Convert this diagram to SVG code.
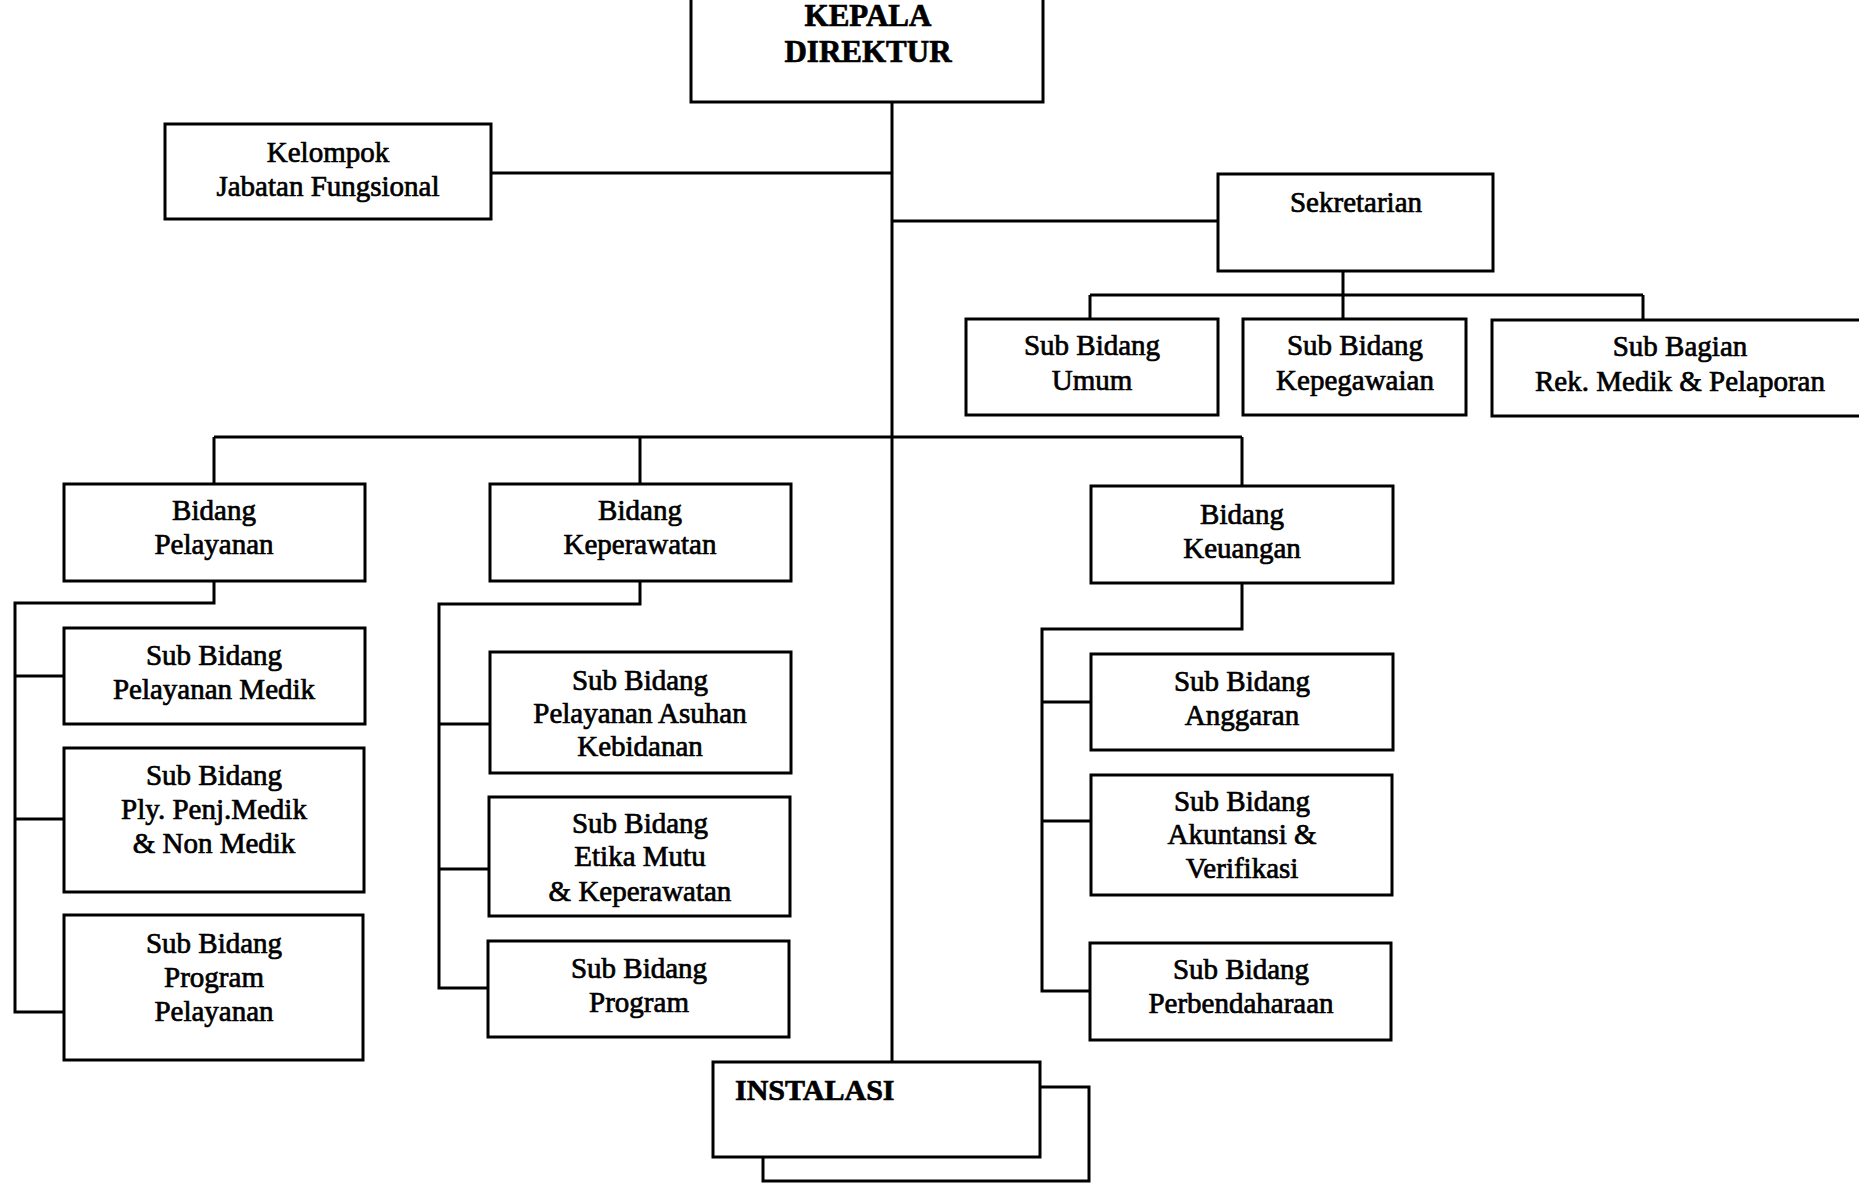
<svg xmlns="http://www.w3.org/2000/svg" width="1859" height="1183" viewBox="0 0 1859 1183">
<style>
.box{fill:#fff;stroke:#000;stroke-width:3}
.ln{fill:none;stroke:#000;stroke-width:3}
text{font-family:"Liberation Serif","Times New Roman",serif;font-size:29px;fill:#000;text-anchor:middle;stroke:#000;stroke-width:0.7}
.b{font-weight:bold;font-size:31px}
</style>
<rect width="1859" height="1183" fill="#fff"/>
<g id="connectors">
<path class="ln" d="M892 102 V1062"/>
<path class="ln" d="M491 173 H892"/>
<path class="ln" d="M892 221 H1218"/>
<path class="ln" d="M1343 271 V295 M1090 295 H1643 M1090 295 V319 M1343 295 V319 M1643 295 V320"/>
<path class="ln" d="M214 437 H1242 M214 437 V484 M640 437 V484 M1242 437 V486"/>
<path class="ln" d="M214 581 V603 H15 V1012 H64 M15 676 H64 M15 819 H64"/>
<path class="ln" d="M640 581 V604 H439 V988 H488 M439 724 H490 M439 869 H489"/>
<path class="ln" d="M1242 583 V629 H1042 V991 H1090 M1042 702 H1091 M1042 821 H1091"/>
</g>
<g id="kepala"><rect class="box" x="691" y="-5" width="352" height="107"/><text class="b" x="868" y="26">KEPALA</text><text class="b" x="868" y="62">DIREKTUR</text></g>
<g id="kelompok"><rect class="box" x="165" y="124" width="326" height="95"/><text x="328" y="162">Kelompok</text><text x="328" y="196">Jabatan Fungsional</text></g>
<g id="sekretarian"><rect class="box" x="1218" y="174" width="275" height="97"/><text x="1356" y="212">Sekretarian</text></g>
<g id="sub-umum"><rect class="box" x="966" y="319" width="252" height="96"/><text x="1092" y="355">Sub Bidang</text><text x="1092" y="390">Umum</text></g>
<g id="sub-kepegawaian"><rect class="box" x="1243" y="319" width="223" height="96"/><text x="1355" y="355">Sub Bidang</text><text x="1355" y="390">Kepegawaian</text></g>
<g id="sub-bagian"><rect class="box" x="1492" y="320" width="380" height="96"/><text x="1680" y="356">Sub Bagian</text><text x="1680" y="391">Rek. Medik &amp; Pelaporan</text></g>
<g id="bidang-pelayanan"><rect class="box" x="64" y="484" width="301" height="97"/><text x="214" y="520">Bidang</text><text x="214" y="554">Pelayanan</text></g>
<g id="bidang-keperawatan"><rect class="box" x="490" y="484" width="301" height="97"/><text x="640" y="520">Bidang</text><text x="640" y="554">Keperawatan</text></g>
<g id="bidang-keuangan"><rect class="box" x="1091" y="486" width="302" height="97"/><text x="1242" y="524">Bidang</text><text x="1242" y="558">Keuangan</text></g>
<g id="sub-pelayanan-medik"><rect class="box" x="64" y="628" width="301" height="96"/><text x="214" y="665">Sub Bidang</text><text x="214" y="699">Pelayanan Medik</text></g>
<g id="sub-ply"><rect class="box" x="64" y="748" width="300" height="144"/><text x="214" y="785">Sub Bidang</text><text x="214" y="819">Ply. Penj.Medik</text><text x="214" y="853">&amp; Non Medik</text></g>
<g id="sub-program-pelayanan"><rect class="box" x="64" y="915" width="299" height="145"/><text x="214" y="953">Sub Bidang</text><text x="214" y="987">Program</text><text x="214" y="1021">Pelayanan</text></g>
<g id="sub-asuhan"><rect class="box" x="490" y="652" width="301" height="121"/><text x="640" y="690">Sub Bidang</text><text x="640" y="723">Pelayanan Asuhan</text><text x="640" y="756">Kebidanan</text></g>
<g id="sub-etika"><rect class="box" x="489" y="797" width="301" height="119"/><text x="640" y="833">Sub Bidang</text><text x="640" y="866">Etika Mutu</text><text x="640" y="901">&amp; Keperawatan</text></g>
<g id="sub-program"><rect class="box" x="488" y="941" width="301" height="96"/><text x="639" y="978">Sub Bidang</text><text x="639" y="1012">Program</text></g>
<g id="sub-anggaran"><rect class="box" x="1091" y="654" width="302" height="96"/><text x="1242" y="691">Sub Bidang</text><text x="1242" y="725">Anggaran</text></g>
<g id="sub-akuntansi"><rect class="box" x="1091" y="775" width="301" height="120"/><text x="1242" y="811">Sub Bidang</text><text x="1242" y="844">Akuntansi &amp;</text><text x="1242" y="878">Verifikasi</text></g>
<g id="sub-perbendaharaan"><rect class="box" x="1090" y="943" width="301" height="97"/><text x="1241" y="979">Sub Bidang</text><text x="1241" y="1013">Perbendaharaan</text></g>
<g id="instalasi"><rect class="box" x="763" y="1087" width="326" height="94"/><rect class="box" x="713" y="1062" width="327" height="95"/><text class="b" x="735" y="1100" style="text-anchor:start;font-size:30px">INSTALASI</text></g>
</svg>
